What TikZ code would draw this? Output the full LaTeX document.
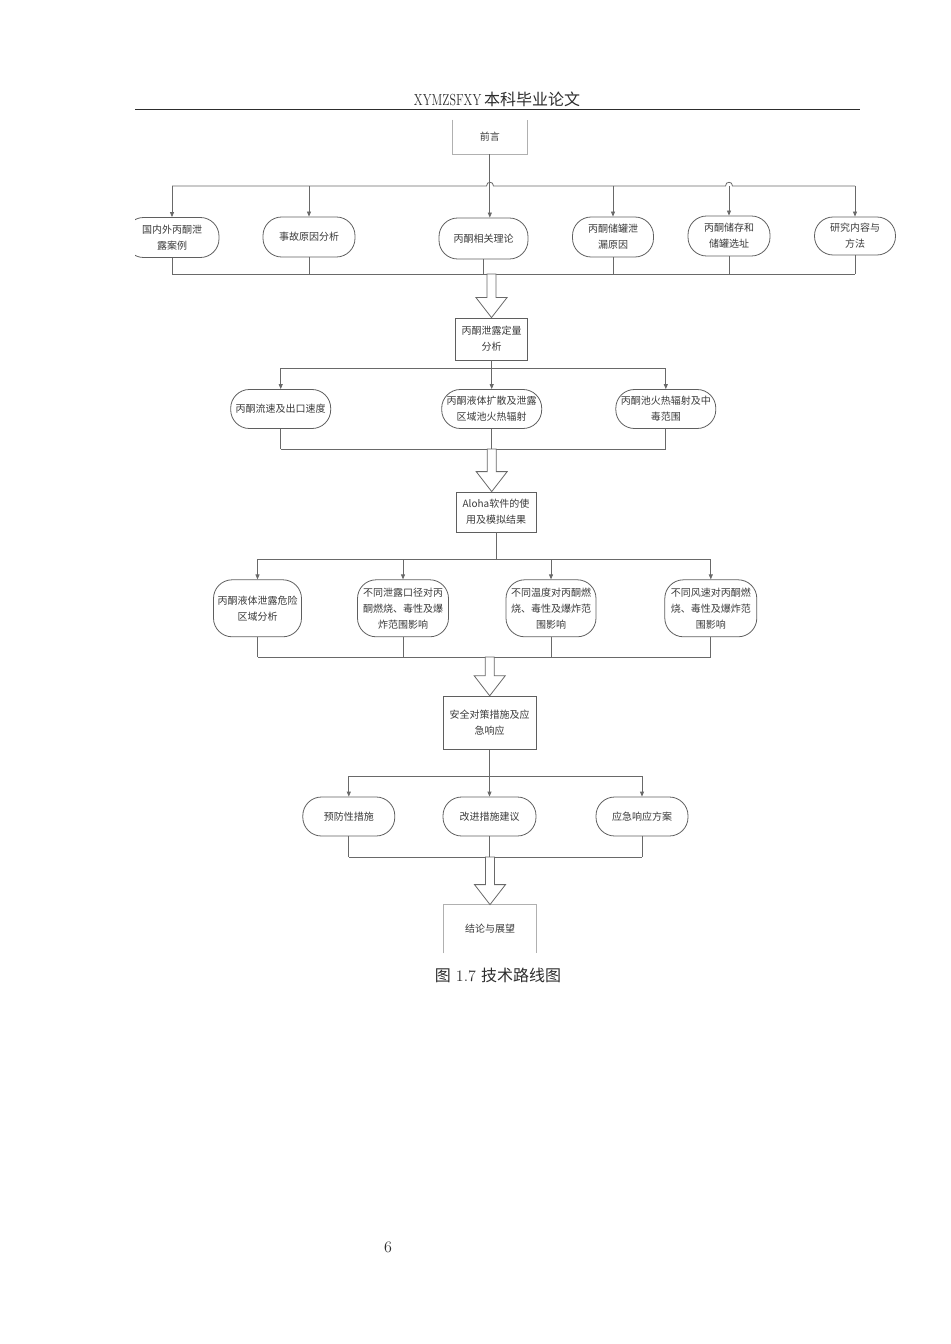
\documentclass[tikz,border=0pt]{standalone}
\usepackage{fontspec}
\usepackage{graphicx}
\newfontfamily\cjk{Noto Sans CJK SC}
\usetikzlibrary{calc,arrows.meta}
\definecolor{linegray}{RGB}{105,105,105}
\definecolor{boxgray}{RGB}{95,95,95}
\definecolor{palegray}{RGB}{176,176,176}
\definecolor{textgray}{RGB}{58,58,58}
\definecolor{headgray}{RGB}{45,45,45}
\tikzset{
  flowline/.style={color=linegray, line width=0.6},
  flowarrow/.style={flowline, -{Triangle[length=3.75pt,width=3pt]}},
  roundbox/.style={draw=boxgray, line width=0.6, rounded corners=14pt, inner sep=0pt, align=center, text=textgray, font=\cjk\fontsize{7.5}{12}\selectfont},
  squarebox/.style={roundbox, rounded corners=0pt},
  openbox/.style={squarebox, draw=none},
  blockarrow/.style={flowline, fill=white},
}
% hollow block arrow from bus (#1) to box top (#2)
\newcommand{\hollowarrow}[2]{%
  \draw[blockarrow] ($(#1)+(-4.5,0)$) -- ($(#2)+(-4.5,-20)$) -- ($(#2)+(-15.5,-20)$) -- (#2) -- ($(#2)+(15.5,-20)$) -- ($(#2)+(4.5,-20)$) -- ($(#1)+(4.5,0)$) -- cycle;}

\begin{document}
\begin{tikzpicture}[x=0.75pt,y=0.75pt,yscale=-1,xscale=1]
\useasboundingbox (0,0) rectangle (950,1344);
%Page head
\node[inner sep=0pt, anchor=base, text=headgray, font=\fontsize{12}{14}\selectfont] (head) at (497,106) {\scalebox{0.75}[1]{XYMZSFXY}\,{\cjk 本科毕业论文}};
\draw[color=headgray, line width=1.1] (135,109.5) -- (860,109.5);

%Intro box, open at the top
\node[openbox, minimum width=56.25pt, minimum height=25.5pt] (intro) at (489.8,137) {前言};
\draw[color=palegray, line width=0.6] (intro.north west) -- (intro.south west) -- (intro.south east) -- (intro.north east);

%First row
\begin{scope}
\clip (135,195) rectangle (260,270);
\node[roundbox, minimum width=70.5pt, minimum height=30pt] (cases) at (172,237.5) {国内外丙酮泄\\露案例};
\end{scope}
\node[roundbox, minimum width=69pt, minimum height=30pt] (causes) at (309,237) {事故原因分析};
\node[roundbox, minimum width=66.75pt, minimum height=30.75pt] (theory) at (483.5,238.5) {丙酮相关理论};
\node[roundbox, minimum width=60.75pt, minimum height=30pt] (tankleak) at (613,237) {丙酮储罐泄\\漏原因};
\node[roundbox, minimum width=61.5pt, minimum height=30pt] (siting) at (729,236) {丙酮储存和\\储罐选址};
\node[roundbox, minimum width=60.75pt, minimum height=28.5pt] (method) at (855,236) {研究内容与\\方法};

\coordinate (busA) at (490,186);
\coordinate (busB) at (490,274);
\draw[flowline] (cases.north |- busA) -- ($(busA)+(-3.5,0)$) .. controls ($(busA)+(-3.5,-5)$) and ($(busA)+(3.5,-5)$) .. ($(busA)+(3.5,0)$) -- ($(siting.north |- busA)+(-3.5,0)$) .. controls ($(siting.north |- busA)+(-3.5,-5)$) and ($(siting.north |- busA)+(3.5,-5)$) .. ($(siting.north |- busA)+(3.5,0)$) -- (method.north |- busA);
\draw[flowarrow] (intro.south) -- (intro.south |- theory.north);
\foreach \n in {cases,causes,tankleak,siting,method}
  \draw[flowarrow] (\n.north |- busA) -- (\n.north);
\foreach \n in {cases,causes,theory,tankleak,siting,method}
  \draw[flowline] (\n.south) -- (\n.south |- busB);
\draw[flowline] (cases.south |- busB) -- (method.south |- busB);

%Quantitative analysis
\node[squarebox, minimum width=54pt, minimum height=31.5pt] (quant) at (491.5,339) {丙酮泄露定量\\分析};
\hollowarrow{quant.north |- busB}{quant.north}

\node[roundbox, minimum width=75pt, minimum height=29.25pt] (flow) at (280.7,409) {丙酮流速及出口速度};
\node[roundbox, minimum width=75pt, minimum height=29.25pt] (spread) at (491.7,409) {丙酮液体扩散及泄露\\区域池火热辐射};
\node[roundbox, minimum width=75pt, minimum height=29.25pt] (poolfire) at (665.8,409) {丙酮池火热辐射及中\\毒范围};

\coordinate (busC) at (491,368);
\coordinate (busD) at (491,449);
\draw[flowline] (quant.south) -- (quant.south |- busC);
\draw[flowline] (flow.north |- busC) -- (poolfire.north |- busC);
\foreach \n in {flow,spread,poolfire}
  \draw[flowarrow] (\n.north |- busC) -- (\n.north);
\foreach \n in {flow,spread,poolfire}
  \draw[flowline] (\n.south) -- (\n.south |- busD);
\draw[flowline] (flow.south |- busD) -- (poolfire.south |- busD);

%Aloha
\node[squarebox, minimum width=60pt, minimum height=30pt] (aloha) at (496,512) {Aloha软件的使\\用及模拟结果};
\hollowarrow{spread.south |- busD}{spread.south |- aloha.north}

\node[roundbox, minimum width=66pt, minimum height=42.75pt] (zone) at (257.5,608.3) {丙酮液体泄露危险\\区域分析};
\node[roundbox, minimum width=68.25pt, minimum height=42.75pt] (aperture) at (403,608.3) {不同泄露口径对丙\\酮燃烧、毒性及爆\\炸范围影响};
\node[roundbox, minimum width=67.5pt, minimum height=42.75pt] (temper) at (551,608.3) {不同温度对丙酮燃\\烧、毒性及爆炸范\\围影响};
\node[roundbox, minimum width=69pt, minimum height=42.75pt] (wind) at (710.8,608.3) {不同风速对丙酮燃\\烧、毒性及爆炸范\\围影响};

\coordinate (busE) at (495,559);
\coordinate (busF) at (495,657);
\draw[flowline] (aloha.south) -- (aloha.south |- busE);
\draw[flowline] (zone.north |- busE) -- (wind.north |- busE);
\foreach \n in {zone,aperture,temper,wind}
  \draw[flowarrow] (\n.north |- busE) -- (\n.north);
\foreach \n in {zone,aperture,temper,wind}
  \draw[flowline] (\n.south) -- (\n.south |- busF);
\draw[flowline] (zone.south |- busF) -- (wind.south |- busF);

%Safety measures
\node[squarebox, minimum width=69.75pt, minimum height=39.75pt] (safety) at (489.7,722.7) {安全对策措施及应\\急响应};
\hollowarrow{safety.north |- busF}{safety.north}

\node[roundbox, minimum width=69pt, minimum height=29.25pt] (prevent) at (348.8,816.5) {预防性措施};
\node[roundbox, minimum width=69.75pt, minimum height=29.25pt] (improve) at (489.5,816.5) {改进措施建议};
\node[roundbox, minimum width=69pt, minimum height=29.25pt] (respond) at (642,816.5) {应急响应方案};

\coordinate (busG) at (490,776);
\coordinate (busH) at (490,857);
\draw[flowline] (safety.south) -- (safety.south |- busG);
\draw[flowline] (prevent.north |- busG) -- (respond.north |- busG);
\foreach \n in {prevent,improve,respond}
  \draw[flowarrow] (\n.north |- busG) -- (\n.north);
\foreach \n in {prevent,improve,respond}
  \draw[flowline] (\n.south) -- (\n.south |- busH);
\draw[flowline] (prevent.south |- busH) -- (respond.south |- busH);

%Conclusion box, open at the bottom
\node[openbox, minimum width=69pt, minimum height=36pt] (summary) at (490,929) {\raisebox{-3pt}{结论与展望}};
\draw[color=palegray, line width=0.6] (summary.south west) -- (summary.north west) -- (summary.north east) -- (summary.south east);
\hollowarrow{summary.north |- busH}{summary.north}

%Caption and page number
\node[inner sep=0pt, anchor=base, text=headgray, font=\fontsize{12}{14}\selectfont] (caption) at (498,981) {{\cjk 图}\ 1.7\ {\cjk 技术路线图}};
\node[inner sep=0pt, anchor=base, text=headgray, font=\fontsize{12}{14}\selectfont] (pagenum) at (388,1252) {6};
\end{tikzpicture}
\end{document}
